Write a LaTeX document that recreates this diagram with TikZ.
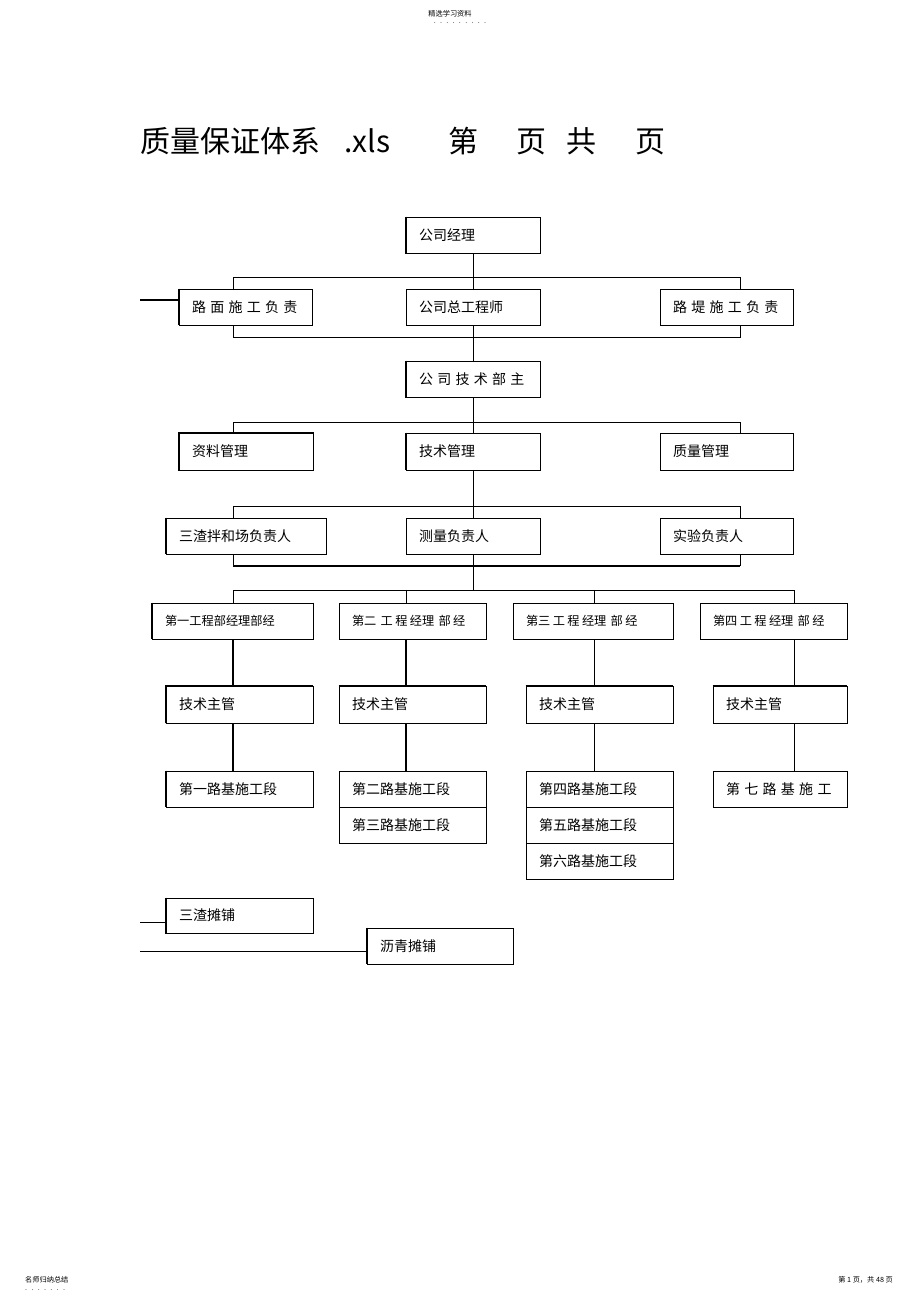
\documentclass[tikz,border=0pt]{standalone}
\usepackage{fontspec}
\setmainfont{Noto Sans CJK SC}
\newcommand\kk{\hspace{4.3pt}}
\newcommand\kq{\hspace{2.4pt}}
\tikzset{
  box/.style={draw=black, line width=0.9pt, rectangle, inner xsep=13pt, inner ysep=0pt, align=left, font=\fontsize{14}{16}\selectfont},
  pmbox/.style={box, font=\fontsize{12.2}{14}\selectfont},
  conn/.style={draw=black, line width=0.8pt},
  heavy/.style={draw=black, line width=1.9pt},
  ttl/.style={anchor=base west, inner sep=0pt, font=\fontsize{30}{34}\selectfont},
  tiny/.style={inner sep=0pt, font=\fontsize{7.2}{8}\selectfont}
}
\newcommand\bx[7][box]{%
  \pgfmathsetmacro\bxw{#5-#3}\pgfmathsetmacro\bxh{#6-#4}\pgfmathsetmacro\bxt{#5-#3-26}%
  \node[#1, minimum width=\bxw pt, minimum height=\bxh pt, text width=\bxt pt] (#2) at ({(#3+#5)/2},{(#4+#6)/2}) {#7};}
\begin{document}
\begin{tikzpicture}[x=1pt,y=-1pt]
\useasboundingbox (0,0) rectangle (920,1303);

% header and footer
\node[tiny] (hdr) at (450,14) {精选学习资料};
\node[tiny] (hdrdots) at (460,23) {.\kk.\kk.\kk.\kk.\kk.\kk.\kk.\kk.};
\node[tiny, anchor=west] (ftl) at (25,1280) {名师归纳总结};
\node[tiny, anchor=west] (ftldots) at (25,1290) {.\kk.\kk.\kk.\kk.\kk.\kk.};
\node[tiny, anchor=east] (ftr) at (893,1280) {第 1 页，共 48 页};

% title
\node[ttl] (t1) at (140,152) {质量保证体系};
\node[ttl] (t2) at (344,152) {.xls};
\node[ttl] (t3) at (448,152) {第};
\node[ttl] (t4) at (516,152) {页};
\node[ttl] (t5) at (566,152) {共};
\node[ttl] (t6) at (635,152) {页};

% level 1
\bx{gm}{406}{217}{540}{253}{公司经理}
% level 2
\bx{lm}{179}{289}{312}{325}{路\kk 面\kk 施\kk 工\kk 负\kk 责}
\bx{zgs}{406}{289}{540}{325}{公司总工程师}
\bx{ld}{660}{289}{793}{325}{路\kk 堤\kk 施\kk 工\kk 负\kk 责}
% level 3
\bx{jsb}{406}{361}{540}{397}{公\kk 司\kk 技\kk 术\kk 部\kk 主}
% level 4
\bx{zl}{179}{433}{313}{470}{资料管理}
\bx{jsgl}{406}{433}{540}{470}{技术管理}
\bx{zlgl}{660}{433}{793}{470}{质量管理}
% level 5
\bx{sz}{166}{518}{326}{554}{三渣拌和场负责人}
\bx{cl}{406}{518}{540}{554}{测量负责人}
\bx{sy}{660}{518}{793}{554}{实验负责人}
% level 6
\bx[pmbox]{pm1}{152}{603}{313}{639}{第一工程部经理部经}
\bx[pmbox]{pm2}{339}{603}{486}{639}{第二\kk 工\kq 程\kq 经理\kk 部\kq 经}
\bx[pmbox]{pm3}{513}{603}{673}{639}{第三\kq 工\kq 程\kq 经理\kk 部\kq 经}
\bx[pmbox]{pm4}{700}{603}{847}{639}{第四\kq 工\kq 程\kq 经理\kk 部\kq 经}
% level 7
\bx{js1}{166}{686}{313}{723}{技术主管}
\bx{js2}{339}{686}{486}{723}{技术主管}
\bx{js3}{526}{686}{673}{723}{技术主管}
\bx{js4}{713}{686}{847}{723}{技术主管}
% level 8
\bx{ld1}{166}{771}{313}{807}{第一路基施工段}
\bx{ld2}{339}{771}{486}{807}{第二路基施工段}
\bx{ld3}{339}{807}{486}{843}{第三路基施工段}
\bx{ld4}{526}{771}{673}{807}{第四路基施工段}
\bx{ld5}{526}{807}{673}{843}{第五路基施工段}
\bx{ld6}{526}{843}{673}{879}{第六路基施工段}
\bx{ld7}{713}{771}{847}{807}{第\kk 七\kk 路\kk 基\kk 施\kk 工}
% paving
\bx{sztp}{166}{898}{313}{933}{三渣摊铺}
\bx{lqtp}{367}{928}{513}{964}{沥青摊铺}

% heavier edges
\draw[heavy] (gm.north west) -- (gm.south west) -- (gm.south east);
\draw[heavy] (lm.north west) -- (lm.south west);
\draw[heavy] (jsb.north west) -- (jsb.south west) -- (jsb.south east);
\draw[heavy] (zl.north west) rectangle (zl.south east);
\draw[heavy] (jsgl.north west) -- (jsgl.south west);
\draw[heavy] (sz.north west) -- (sz.south west);
\draw[heavy] (pm1.north west) -- (pm1.south west);
\draw[heavy] (pm1.north east) -- (pm1.south east);
\draw[heavy] (js1.south west) -- (js1.north west) -- (js1.north east);
\draw[heavy] (js1.south west) -- (js1.south east);
\draw[heavy] (js2.north west) -- (js2.north east);
\draw[heavy] (js3.north west) -- (js3.north east);
\draw[heavy] (js4.north west) -- (js4.north east);
\draw[heavy] (ld1.north west) -- (ld1.south west);
\draw[heavy] (sztp.north west) -- (sztp.south west) -- (sztp.south east) -- (sztp.north east);
\draw[heavy] (lqtp.north west) -- (lqtp.south west);

% bus coordinates
\coordinate (a1) at (233,277); \coordinate (a2) at (740,277);
\coordinate (b1) at (233,337); \coordinate (b2) at (740,337);
\coordinate (c1) at (233,422); \coordinate (c2) at (740,422);
\coordinate (d1) at (233,506); \coordinate (d2) at (740,506);
\coordinate (e1) at (233,566); \coordinate (e2) at (740,566);
\coordinate (k1) at (233,590); \coordinate (k2) at (406,590);
\coordinate (k3) at (594,590); \coordinate (k4) at (794,590);
\coordinate (km) at (473,590);
\coordinate (w1) at (140,300); \coordinate (w2) at (140,922); \coordinate (w3) at (140,951);

% connectors
\draw[conn] (gm.south) -- (zgs.north);
\draw[conn] (a1 |- lm.north) -- (a1) -- (a2) -- (a2 |- ld.north);
\draw[conn] (b1 |- lm.south) -- (b1) -- (b2) -- (b2 |- ld.south);
\draw[conn] (zgs.south) -- (jsb.north);
\draw[conn] (jsb.south) -- (jsgl.north);
\draw[conn] (c1 |- zl.north) -- (c1) -- (c2) -- (c2 |- zlgl.north);
\draw[conn] (jsgl.south) -- (cl.north);
\draw[conn] (d1 |- sz.north) -- (d1) -- (d2) -- (d2 |- sy.north);
\draw[conn] (e1 |- sz.south) -- (e1);
\draw[conn] (e2 |- sy.south) -- (e2);
\draw[heavy] (e1) -- (e2);
\draw[conn] (cl.south) -- (km);
\draw[conn] (k1 |- pm1.north) -- (k1) -- (k4) -- (k4 |- pm4.north);
\draw[conn] (k2) -- (k2 |- pm2.north);
\draw[conn] (k3) -- (k3 |- pm3.north);
\draw[heavy, line width=1.4pt] (k1 |- pm1.south) -- (k1 |- js1.north);
\draw[heavy, line width=1.4pt] (k1 |- js1.south) -- (k1 |- ld1.north);
\draw[heavy, line width=1.4pt] (k2 |- pm2.south) -- (k2 |- js2.north);
\draw[heavy, line width=1.4pt] (k2 |- js2.south) -- (k2 |- ld2.north);
\draw[conn] (k3 |- pm3.south) -- (k3 |- js3.north);
\draw[conn] (k3 |- js3.south) -- (k3 |- ld4.north);
\draw[conn] (k4 |- pm4.south) -- (k4 |- js4.north);
\draw[conn] (k4 |- js4.south) -- (k4 |- ld7.north);
\draw[heavy, line width=1.2pt] (w1) -- (w1 -| lm.west);
\draw[conn] (w2) -- (w2 -| sztp.west);
\draw[conn] (w3) -- (w3 -| lqtp.west);
\end{tikzpicture}
\end{document}
